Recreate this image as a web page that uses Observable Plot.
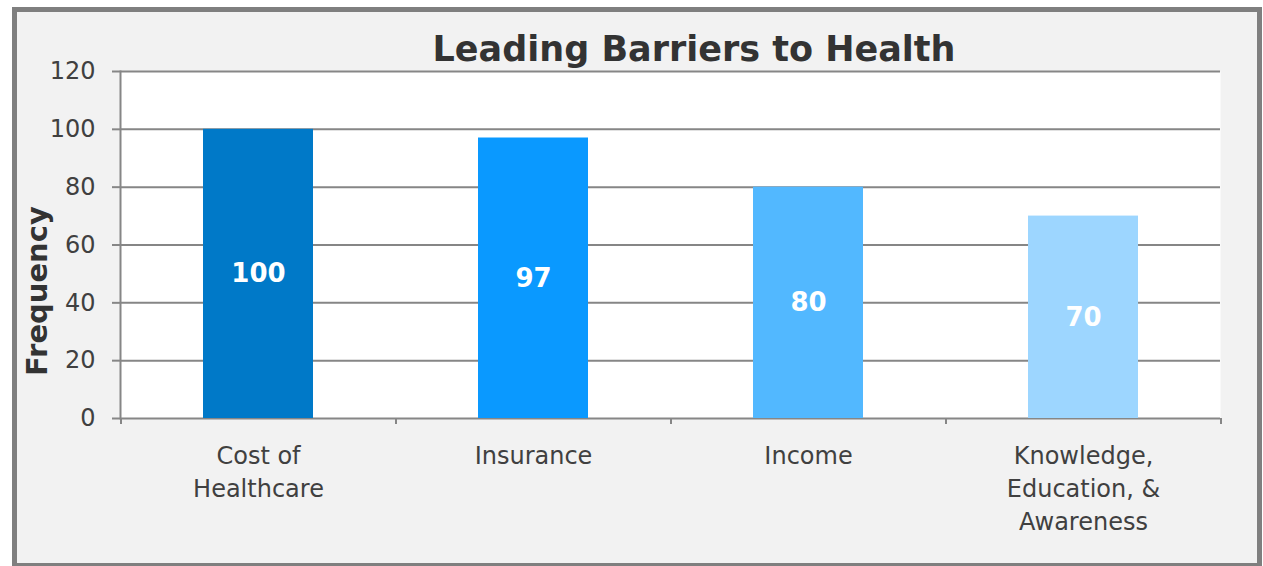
<!DOCTYPE html>
<html>
<head>
<meta charset="utf-8">
<script src="https://cdn.jsdelivr.net/npm/d3@7"></script>
<script src="https://cdn.jsdelivr.net/npm/@observablehq/plot@0.6"></script>
<style>
  html, body { margin: 0; padding: 0; background: #ffffff; width: 1263px; height: 566px; overflow: hidden; }
  #frame { position: absolute; left: 12px; top: 7px; width: 1240px; height: 551px; border: 5px solid #7f7f7f; background: #f2f2f2; }
  #title { position: absolute; left: 0; top: 32px; width: 1388px; text-align: center; font-family: "DejaVu Sans", sans-serif; font-weight: bold; font-size: 35px; line-height: 35px; color: #333333; }
  #chart { position: absolute; left: 0; top: 0; }
</style>
</head>
<body>
<div id="frame"></div>
<div id="title"></div>
<div id="chart"></div>
<script>
const title = "Leading Barriers to Health";
const yLabel = "Frequency";
const categories = ["Cost of\nHealthcare", "Insurance", "Income", "Knowledge,\nEducation, &\nAwareness"];
const values = [100, 97, 80, 70];
const yTicks = [0, 20, 40, 60, 80, 100, 120];
const palette = ["#0079c8", "#0a99ff", "#52b8ff", "#9dd6ff"];

const data = categories.map((c, i) => ({category: c, value: values[i]}));

const W = 1263, H = 566, mL = 120, mR = 43, mT = 71, mB = 148;
const step = (W - mL - mR) / categories.length;
const gray = "#868686";

document.getElementById("title").textContent = title;

const chart = Plot.plot({
  width: W, height: H,
  marginLeft: mL, marginRight: mR, marginTop: mT, marginBottom: mB,
  style: {background: "transparent", fontFamily: "DejaVu Sans, sans-serif", overflow: "visible"},
  x: {domain: categories, paddingInner: 0.6, paddingOuter: 0.3},
  y: {domain: [0, 120]},
  color: {domain: categories, range: palette},
  marks: [
    Plot.frame({fill: "white"}),
    Plot.gridY(yTicks, {stroke: gray, strokeOpacity: 1, strokeWidth: 2}),
    Plot.barY(data, {x: "category", y: "value", fill: "category"}),
    Plot.frame({anchor: "left", stroke: gray, strokeWidth: 2}),
    Plot.axisY(yTicks, {tickSize: 8, tickPadding: 17, fontSize: 24, fill: "#404040", stroke: gray, strokeWidth: 2, strokeOpacity: 1, label: null}),
    Plot.axisX({tickSize: 0, tickPadding: 22, fontSize: 24, fill: "#404040", lineHeight: 1.375, label: null}),
    Plot.axisX({tickSize: 6, tickFormat: () => "", dx: -step / 2, stroke: gray, strokeWidth: 2, strokeOpacity: 1, label: null}),
    Plot.axisX([categories[categories.length - 1]], {tickSize: 6, tickFormat: () => "", dx: step / 2, stroke: gray, strokeWidth: 2, strokeOpacity: 1, label: null}),
    Plot.text(data, {x: "category", y: d => d.value / 2, text: d => String(d.value), fill: "white", fontSize: 26, fontWeight: "bold"}),
    Plot.text([yLabel], {frameAnchor: "left", textAnchor: "middle", rotate: -90, dx: -83, dy: 46, fontSize: 29, fontWeight: "bold", fill: "#333333"})
  ]
});
document.getElementById("chart").appendChild(chart);
</script>
</body>
</html>
